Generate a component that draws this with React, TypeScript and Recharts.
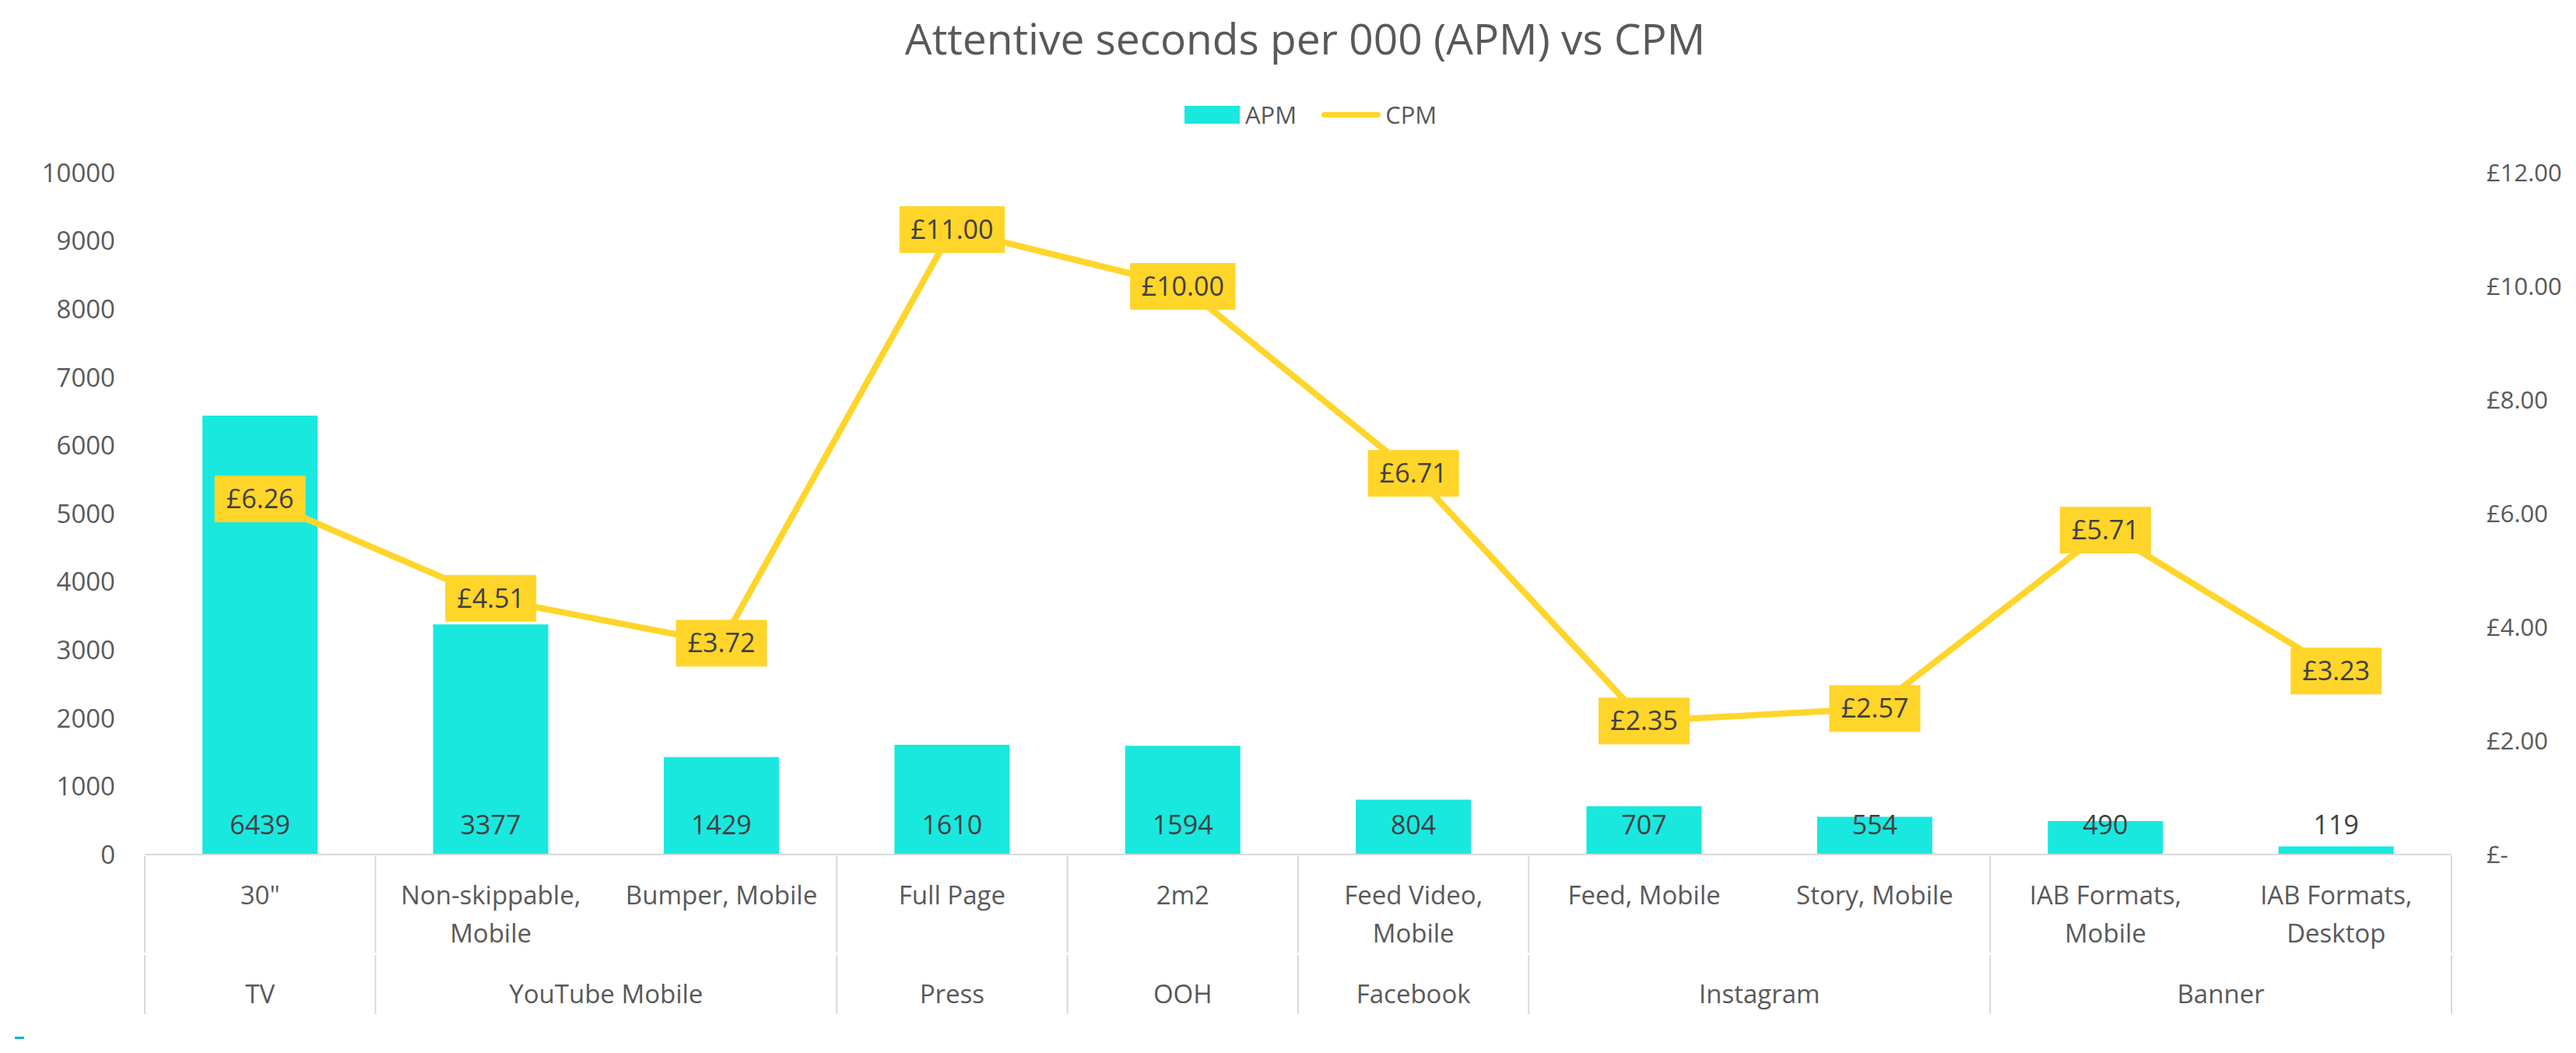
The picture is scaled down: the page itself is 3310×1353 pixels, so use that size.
import { ComposedChart, Bar, Line, XAxis, YAxis, LabelList } from 'recharts';

const categories = [
  '30"',
  'Non-skippable,\nMobile',
  'Bumper, Mobile',
  'Full Page',
  '2m2',
  'Feed Video,\nMobile',
  'Feed, Mobile',
  'Story, Mobile',
  'IAB Formats,\nMobile',
  'IAB Formats,\nDesktop',
];
const groups = ['TV', 'YouTube Mobile', 'YouTube Mobile', 'Press', 'OOH', 'Facebook', 'Instagram', 'Instagram', 'Banner', 'Banner'];
const apm = [6439, 3377, 1429, 1610, 1594, 804, 707, 554, 490, 119];
const cpm = [6.26, 4.51, 3.72, 11.0, 10.0, 6.71, 2.35, 2.57, 5.71, 3.23];
const apmTicks = [0, 1000, 2000, 3000, 4000, 5000, 6000, 7000, 8000, 9000, 10000];
const cpmTicks = [0, 2, 4, 6, 8, 10, 12];

const data = categories.map((name, i) => ({ name, group: groups[i], apm: apm[i], cpm: cpm[i] }));

const W = 3310;
const H = 1353;
const TOP = 222;
const LEFT_W = 186;
const RIGHT_W = 160;
const X_H = 255;
const PLOT_BOTTOM = H - X_H;
const BAND = (W - LEFT_W - RIGHT_W) / categories.length;

const FONT = '"Open Sans", "Noto Sans", sans-serif';
const TEXT = '#595959';
const DARK = '#404040';
const CYAN = '#19E8DF';
const YELLOW = '#FFD52A';
const GRID = '#D9D9D9';

function CategoryTick(props: any) {
  const { x, index } = props;
  const lines = String(categories[index]).split('\n');
  const g = groups[index];
  const isFirst = index === 0 || groups[index - 1] !== g;
  const isLast = index === categories.length - 1;
  let span = 1;
  while (index + span < groups.length && groups[index + span] === g) span++;
  const left = x - BAND / 2;
  const row1Top = PLOT_BOTTOM + 2;
  const rowSplit = PLOT_BOTTOM + 126;
  const rowBottom = PLOT_BOTTOM + 205;
  return (
    <g>
      {lines.map((ln, k) => (
        <text key={k} x={x} y={PLOT_BOTTOM + 52 + k * 49} dy="0.35em" textAnchor="middle" fill={TEXT} fontSize={33} fontFamily={FONT}>
          {ln}
        </text>
      ))}
      {isFirst && (
        <>
          <line x1={left} x2={left} y1={row1Top} y2={rowSplit} stroke={GRID} strokeWidth={2} />
          <line x1={left} x2={left} y1={rowSplit + 3} y2={rowBottom} stroke={GRID} strokeWidth={2} />
          <text x={left + (span * BAND) / 2} y={PLOT_BOTTOM + 179} dy="0.35em" textAnchor="middle" fill={TEXT} fontSize={33} fontFamily={FONT}>
            {g}
          </text>
        </>
      )}
      {isLast && (
        <>
          <line x1={x + BAND / 2} x2={x + BAND / 2} y1={row1Top} y2={rowSplit} stroke={GRID} strokeWidth={2} />
          <line x1={x + BAND / 2} x2={x + BAND / 2} y1={rowSplit + 3} y2={rowBottom} stroke={GRID} strokeWidth={2} />
        </>
      )}
    </g>
  );
}

function ApmLabel(props: any) {
  const { x, y, width, height, value } = props;
  return (
    <text x={x + width / 2} y={y + height - 38} dy="0.35em" textAnchor="middle" fill={DARK} fontSize={34} fontFamily={FONT}>
      {value}
    </text>
  );
}

function CpmLabel(props: any) {
  const { x, y, value } = props;
  const txt = '£' + Number(value).toFixed(2);
  let w = 34;
  for (const c of txt) w += c === '.' ? 9 : 18.5;
  return (
    <g>
      <rect x={x - w / 2} y={y - 30} width={w} height={60} fill={YELLOW} />
      <text x={x} y={y} dy="0.35em" textAnchor="middle" fill={DARK} fontSize={34} fontFamily={FONT}>
        {txt}
      </text>
    </g>
  );
}

export default function App() {
  return (
    <div style={{ position: 'absolute', left: 0, top: 0, width: W, height: H, background: '#fff', fontFamily: FONT }}>
      <div style={{ position: 'absolute', left: 1677, top: 48, transform: 'translate(-50%, -50%)', fontSize: 55, color: TEXT, whiteSpace: 'nowrap' }}>
        Attentive seconds per 000 (APM) vs CPM
      </div>
      <div style={{ position: 'absolute', left: 1522, top: 147, transform: 'translateY(-50%)', display: 'flex', alignItems: 'center', fontSize: 31, color: TEXT, whiteSpace: 'nowrap' }}>
        <span style={{ display: 'inline-block', width: 71, height: 23, background: CYAN, marginRight: 7 }} />
        <span>APM</span>
        <span style={{ display: 'inline-block', width: 76, height: 7, borderRadius: 4, background: YELLOW, margin: '0 6px 0 32px' }} />
        <span>CPM</span>
      </div>
      <div style={{ position: 'absolute', left: 19, top: 1332, width: 12, height: 3, background: '#00B5D1' }} />
      <ComposedChart width={W} height={H} data={data} margin={{ top: TOP, right: 0, bottom: 0, left: 0 }} barCategoryGap="25%">
        <XAxis
          dataKey="name"
          xAxisId={0}
          height={X_H}
          interval={0}
          tickLine={false}
          tickSize={0}
          axisLine={{ stroke: GRID, strokeWidth: 2 }}
          tick={<CategoryTick />}
        />
        <YAxis
          yAxisId="left"
          orientation="left"
          width={LEFT_W}
          domain={[0, 10000]}
          ticks={apmTicks}
          interval={0}
          axisLine={false}
          tickLine={false}
          tickSize={0}
          tickMargin={38}
          tick={{ fill: TEXT, fontSize: 33, fontFamily: FONT }}
        />
        <YAxis
          yAxisId="right"
          orientation="right"
          width={RIGHT_W}
          domain={[0, 12]}
          ticks={cpmTicks}
          interval={0}
          axisLine={false}
          tickLine={false}
          tickSize={0}
          tickMargin={45}
          tickFormatter={(v: number) => (v === 0 ? '£-' : '£' + v.toFixed(2))}
          tick={{ fill: TEXT, fontSize: 31, fontFamily: FONT, textAnchor: 'start' }}
        />
        <Bar yAxisId="left" dataKey="apm" fill={CYAN} isAnimationActive={false}>
          <LabelList dataKey="apm" content={<ApmLabel />} />
        </Bar>
        <Line
          yAxisId="right"
          dataKey="cpm"
          type="linear"
          stroke={YELLOW}
          strokeWidth={8}
          strokeLinejoin="round"
          dot={false}
          activeDot={false}
          isAnimationActive={false}
        >
          <LabelList dataKey="cpm" content={<CpmLabel />} />
        </Line>
      </ComposedChart>
    </div>
  );
}
